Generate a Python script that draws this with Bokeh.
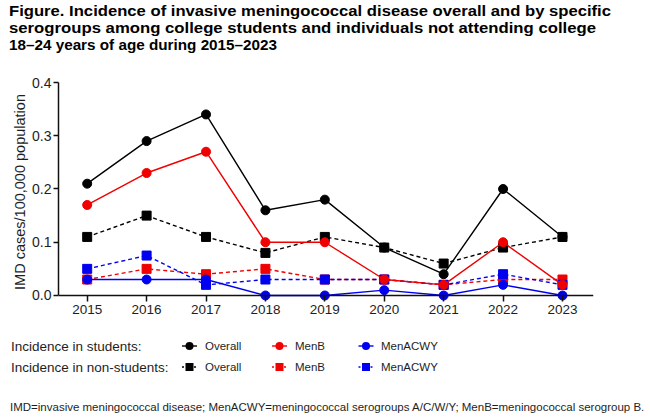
from bokeh.plotting import figure
from bokeh.layouts import column
from bokeh.models import Range1d, FixedTicker, PrintfTickFormatter, Span, Div
from bokeh.embed import file_html
from bokeh.resources import INLINE

# ---------------- data ----------------
years = [2015, 2016, 2017, 2018, 2019, 2020, 2021, 2022, 2023]
students_overall = [0.21, 0.29, 0.34, 0.16, 0.18, 0.09, 0.04, 0.20, 0.11]
students_menb = [0.17, 0.23, 0.27, 0.10, 0.10, 0.03, 0.02, 0.10, 0.02]
students_menacwy = [0.03, 0.03, 0.03, 0.00, 0.00, 0.01, 0.00, 0.02, 0.00]
nonstudents_overall = [0.11, 0.15, 0.11, 0.08, 0.11, 0.09, 0.06, 0.09, 0.11]
nonstudents_menb = [0.03, 0.05, 0.04, 0.05, 0.03, 0.03, 0.02, 0.03, 0.03]
nonstudents_menacwy = [0.05, 0.075, 0.02, 0.03, 0.03, 0.03, 0.02, 0.04, 0.02]
y_ticks = [0.0, 0.1, 0.2, 0.3, 0.4]
series_names = ["Overall", "MenB", "MenACWY"]
group_names = ["Incidence in students:", "Incidence in non-students:"]

title_lines = [
    "Figure. Incidence of invasive meningococcal disease overall and by specific",
    "serogroups among college students and individuals not attending college",
    "18\u201324 years of age during 2015\u20132023",
]
footnote = ("IMD=invasive meningococcal disease; MenACWY=meningococcal serogroups "
            "A/C/W/Y; MenB=meningococcal serogroup B.")

FONT = "Liberation Sans"
TXT = "#1e1e1e"
COLORS = ["#000000", "#f00000", "#0000f0"]
LW = 1.4
DASH = "4 3"
MS = 9
W = 650

# ---------------- title strip (canvas y 0..70) ----------------
H_T = 70
title_widths = [602, 587, 268]
title_svg = "".join(
    f'<text x="9" y="{by}" font-family="{FONT}" font-size="15.5px" font-weight="bold" '
    f'textLength="{tw}" lengthAdjust="spacingAndGlyphs" fill="#000000">{t}</text>'
    for t, by, tw in zip(title_lines, (16, 33, 50), title_widths))
div_title = Div(text=f'<svg xmlns="http://www.w3.org/2000/svg" width="{W}" height="{H_T}" '
                     f'style="display:block">{title_svg}</svg>',
                width=W, height=H_T, margin=0)

# ---------------- main chart (canvas y 70..330) ----------------
FL, FR, FT, FB = 58, 593, 82, 301
TOP0, BOT0 = 70, 330
p = figure(width=W, height=BOT0 - TOP0, output_backend="svg", toolbar_location=None,
           x_range=Range1d(2014.517, 2023.522), y_range=Range1d(-0.01127, 0.4),
           min_border_left=FL, min_border_right=W - FR,
           min_border_top=FT - TOP0, min_border_bottom=BOT0 - FB, margin=0)
p.outline_line_color = None
p.grid.visible = False

p.xaxis.ticker = FixedTicker(ticks=years)
p.xaxis.axis_line_color = None
p.xaxis.major_tick_in = 6
p.xaxis.major_tick_out = 0
p.xaxis.major_label_standoff = 3
p.xaxis.major_label_text_font_size = "13.5px"
p.yaxis.ticker = FixedTicker(ticks=y_ticks)
p.yaxis.formatter = PrintfTickFormatter(format="%.1f")
p.yaxis.bounds = (0, 0.4)
p.yaxis.major_tick_in = 0
p.yaxis.major_tick_out = 5
p.yaxis.major_label_standoff = 2
p.yaxis.major_label_text_font_size = "14px"
p.yaxis.axis_label = "IMD cases/100,000 population"
p.yaxis.axis_label_text_font = FONT
p.yaxis.axis_label_text_font_size = "14.5px"
p.yaxis.axis_label_text_font_style = "normal"
p.yaxis.axis_label_text_color = TXT
p.yaxis.axis_label_standoff = 1
p.yaxis.axis_line_width = 1.5
p.yaxis.axis_line_color = "#111111"
for ax in (p.xaxis, p.yaxis):
    ax.major_label_text_font = FONT
    ax.major_label_text_color = TXT
    ax.major_tick_line_width = 1.5
    ax.major_tick_line_color = "#111111"
    ax.minor_tick_line_color = None

# x axis baseline at y = 0
p.add_layout(Span(location=0, dimension="width", line_color="#111111", line_width=1.5))

def series(vals, color, marker, dash):
    p.line(years, vals, line_color=color, line_width=LW, line_dash=dash)
    p.scatter(years, vals, marker=marker, size=MS, fill_color=color, line_color=color)

non_vals = [nonstudents_overall, nonstudents_menb, nonstudents_menacwy]
stu_vals = [students_overall, students_menb, students_menacwy]
for vals, c in zip(non_vals, COLORS):
    series(vals, c, "square", DASH)
for vals, c in zip(stu_vals, COLORS):
    series(vals, c, "circle", "solid")

# ---------------- legend + footnote strip (canvas y 330..419) ----------------
TOP1, BOT1 = 330, 419
row_y = [346 - TOP1, 367 - TOP1]
glyph_cx = [189.5, 279.5, 366]
label_x = [205, 295, 381]
parts = []
for gi, (ry, gname) in enumerate(zip(row_y, group_names)):
    parts.append(f'<text x="11" y="{ry}" dy="0.35em" font-family="{FONT}" font-size="13.5px" '
                 f'fill="{TXT}">{gname}</text>')
    for cx, c, lx, name in zip(glyph_cx, COLORS, label_x, series_names):
        dash_attr = ' stroke-dasharray="2 2"' if gi == 1 else ""
        parts.append(f'<line x1="{cx - 7.5}" y1="{ry}" x2="{cx + 7.5}" y2="{ry}" '
                     f'stroke="{c}" stroke-width="1.4"{dash_attr}/>')
        if gi == 0:
            parts.append(f'<circle cx="{cx}" cy="{ry}" r="4" fill="{c}"/>')
        else:
            parts.append(f'<rect x="{cx - 4}" y="{ry - 4}" width="8" height="8" fill="{c}"/>')
        parts.append(f'<text x="{lx}" y="{ry}" dy="0.35em" font-family="{FONT}" '
                     f'font-size="11.5px" fill="{TXT}">{name}</text>')
parts.append(f'<text x="10" y="{407 - TOP1}" dy="0.35em" font-family="{FONT}" '
             f'font-size="11.5px" fill="{TXT}">{footnote}</text>')
div_bottom = Div(text=f'<svg xmlns="http://www.w3.org/2000/svg" width="{W}" '
                      f'height="{BOT1 - TOP1}" style="display:block">{"".join(parts)}</svg>',
                 width=W, height=BOT1 - TOP1, margin=0)

layout = column(div_title, p, div_bottom, spacing=0)
open("out.html", "w").write(file_html(layout, INLINE))
